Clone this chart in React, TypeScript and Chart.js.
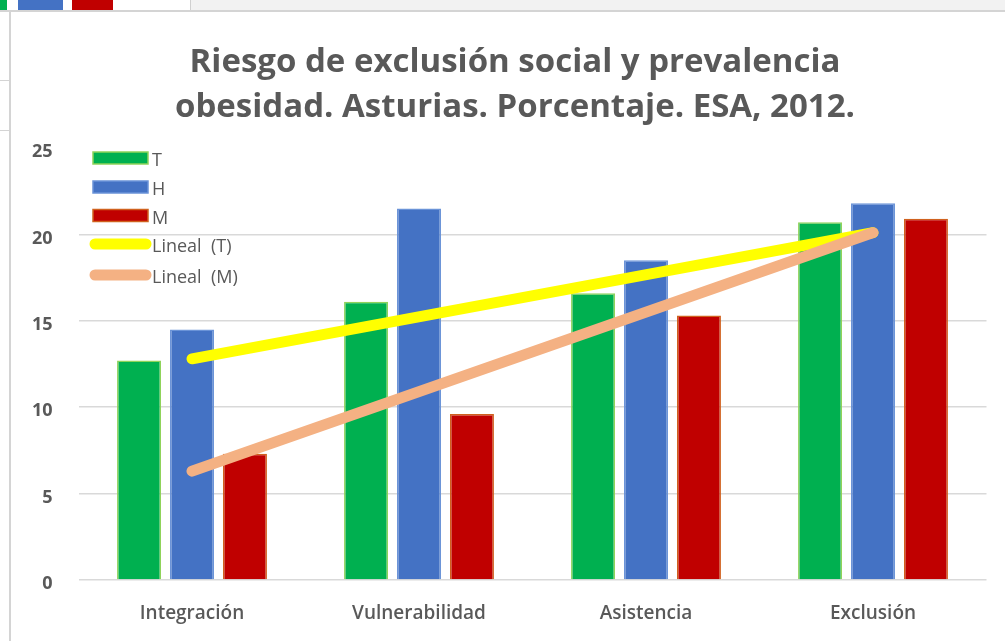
import React, { useEffect, useRef } from "react";
import { Chart, registerables } from "chart.js";

Chart.register(...registerables);

const categories = ["Integración", "Vulnerabilidad", "Asistencia", "Exclusión"];
const seriesT = [12.7, 16.1, 16.6, 20.7];
const seriesH = [14.5, 21.5, 18.5, 21.8];
const seriesM = [7.3, 9.6, 15.3, 20.9];
// trendline end points (first and last category)
const trendT = [12.8, 20.1];
const trendM = [6.3, 20.1];
const yTicks = [0, 5, 10, 15, 20, 25];
const titleLines = [
  "Riesgo de exclusión social y prevalencia",
  "obesidad. Asturias. Porcentaje. ESA, 2012.",
];

const GREY = "#595959";
const FONT = "'Open Sans', 'Noto Sans', sans-serif";

const titlePlugin = {
  id: "excelTitle",
  afterDraw(chart: any) {
    const ctx = chart.ctx;
    ctx.save();
    ctx.font = `bold 33px ${FONT}`;
    ctx.fillStyle = GREY;
    ctx.textAlign = "center";
    ctx.textBaseline = "middle";
    titleLines.forEach((t, i) => {
      ctx.fillText(t, 504, 51 + i * 45);
    });
    ctx.restore();
  },
};

const legendPlugin = {
  id: "excelLegend",
  afterDraw(chart: any) {
    const ctx = chart.ctx;
    const ds = chart.data.datasets;
    const rows = [146, 175, 203.5, 232, 263];
    const x0 = 82;
    const w = 55;
    ctx.save();
    ctx.font = `18px ${FONT}`;
    ctx.textBaseline = "middle";
    ds.forEach((d: any, i: number) => {
      const y = rows[i];
      if (d.type === "line") {
        ctx.strokeStyle = d.borderColor;
        ctx.lineWidth = 11;
        ctx.lineCap = "round";
        ctx.beginPath();
        ctx.moveTo(x0 + 2, y);
        ctx.lineTo(x0 + w - 2, y);
        ctx.stroke();
      } else {
        ctx.fillStyle = d.backgroundColor;
        ctx.fillRect(x0, y - 6, w, 12);
        ctx.strokeStyle = d.borderColor;
        ctx.lineWidth = 1.5;
        ctx.strokeRect(x0, y - 6, w, 12);
      }
      ctx.fillStyle = GREY;
      ctx.fillText(d.label, x0 + w + 4, y + 3);
    });
    ctx.restore();
  },
};

export default function App() {
  const ref = useRef<HTMLCanvasElement | null>(null);

  useEffect(() => {
    document.body.style.margin = "0";
    const canvas = ref.current;
    if (!canvas) return;
    const chart = new Chart(canvas, {
      type: "bar",
      data: {
        labels: categories,
        datasets: [
          {
            label: "T",
            data: seriesT,
            backgroundColor: "#00b050",
            borderColor: "#8fd35a",
            borderWidth: 1.5,
            order: 2,
          },
          {
            label: "H",
            data: seriesH,
            backgroundColor: "#4472c4",
            borderColor: "#6a93d8",
            borderWidth: 1.5,
            order: 2,
          },
          {
            label: "M",
            data: seriesM,
            backgroundColor: "#c00000",
            borderColor: "#d0611e",
            borderWidth: 1.5,
            order: 2,
          },
          {
            type: "line",
            label: "Lineal  (T)",
            data: [
              { x: categories[0], y: trendT[0] },
              { x: categories[categories.length - 1], y: trendT[1] },
            ],
            borderColor: "#ffff00",
            backgroundColor: "#ffff00",
            borderWidth: 11,
            borderCapStyle: "round",
            pointRadius: 0,
            order: 1,
          } as any,
          {
            type: "line",
            label: "Lineal  (M)",
            data: [
              { x: categories[0], y: trendM[0] },
              { x: categories[categories.length - 1], y: trendM[1] },
            ],
            borderColor: "#f4b183",
            backgroundColor: "#f4b183",
            borderWidth: 11,
            borderCapStyle: "round",
            pointRadius: 0,
            order: 0,
          } as any,
        ],
      },
      options: {
        animation: false,
        responsive: false,
        maintainAspectRatio: false,
        layout: { padding: { left: 0, right: 18.5, top: 136, bottom: 0 } },
        datasets: {
          bar: { barPercentage: 0.83, categoryPercentage: 0.7 },
        },
        plugins: {
          legend: { display: false },
          tooltip: { enabled: false },
          title: { display: false },
        },
        scales: {
          x: {
            grid: { display: false, drawTicks: false },
            border: { display: false },
            ticks: {
              color: GREY,
              font: { family: FONT, size: 19, weight: "600" },
              padding: 22,
            },
            afterFit(scale: any) {
              scale.height = 61;
            },
          },
          y: {
            min: 0,
            max: 25,
            afterBuildTicks(scale: any) {
              scale.ticks = yTicks.map((v) => ({ value: v }));
            },
            grid: {
              drawTicks: false,
              lineWidth: 1.5,
              color: (c: any) =>
                c.tick && c.tick.value === 25 ? "rgba(0,0,0,0)" : "#d9d9d9",
            },
            border: { display: false },
            ticks: {
              color: GREY,
              font: { family: FONT, size: 18, weight: "bold" },
              padding: 26,
              labelOffset: 4,
            },
            afterFit(scale: any) {
              scale.width = 67.5;
            },
          },
        },
      },
      plugins: [titlePlugin, legendPlugin],
    });
    return () => chart.destroy();
  }, []);

  return (
    <div
      style={{
        position: "fixed",
        left: 0,
        top: 0,
        width: 1005,
        height: 641,
        background: "#ffffff",
        overflow: "hidden",
      }}
    >
      {/* spreadsheet chrome around the chart */}
      <div style={{ position: "absolute", left: 190, top: 0, width: 815, height: 10, background: "#f2f2f2", borderLeft: "1.5px solid #d0d0d0" }} />
      <div style={{ position: "absolute", left: 0, top: 0, width: 7, height: 10, background: "#00b050" }} />
      <div style={{ position: "absolute", left: 18, top: 0, width: 45, height: 10, background: "#4472c4" }} />
      <div style={{ position: "absolute", left: 72, top: 0, width: 41, height: 10, background: "#c00000" }} />
      <div style={{ position: "absolute", left: 0, top: 10, width: 1005, height: 2, background: "#d4d4d4" }} />
      <div style={{ position: "absolute", left: 9, top: 12, width: 2, height: 629, background: "#d4d4d4" }} />
      <div style={{ position: "absolute", left: 0, top: 80, width: 9, height: 1, background: "#d4d4d4" }} />
      <div style={{ position: "absolute", left: 0, top: 130, width: 9, height: 1, background: "#d4d4d4" }} />
      <canvas
        ref={ref}
        width={994}
        height={629}
        style={{ position: "absolute", left: 11, top: 12, width: 994, height: 629 }}
      />
    </div>
  );
}
